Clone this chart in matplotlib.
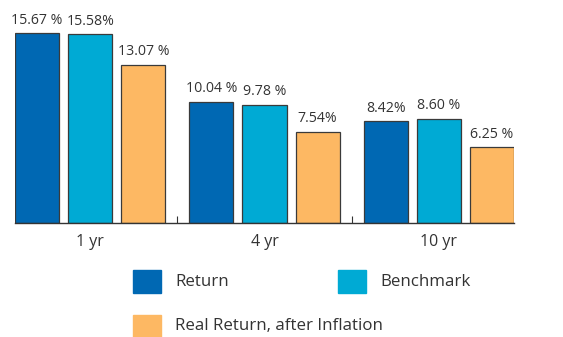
import matplotlib
matplotlib.use('Agg')
import matplotlib.pyplot as plt
from matplotlib.patches import Rectangle
import numpy as np

periods = ['1 yr', '4 yr', '10 yr']
series = ['Return', 'Benchmark', 'Real Return, after Inflation']
ret = [15.67, 10.04, 8.42]
bench = [15.58, 9.78, 8.60]
real = [13.07, 7.54, 6.25]
ret_lbl = ['15.67 %', '10.04 %', '8.42%']
bench_lbl = ['15.58%', '9.78 %', '8.60 %']
real_lbl = ['13.07 %', '7.54%', '6.25 %']
colors = ['#0068b3', '#00aad4', '#fdb863']

plt.rcParams['font.family'] = ['Open Sans', 'DejaVu Sans']
txt = '#333333'

fig = plt.figure(figsize=(5.63, 3.37), dpi=100)
ax = fig.add_axes([15/563, 114/337, 499/563, 213/337])

x = np.arange(len(periods))
w = 0.253
off = 0.305
for i, (vals, lbls) in enumerate([(ret, ret_lbl), (bench, bench_lbl), (real, real_lbl)]):
    ax.bar(x + (i - 1) * off, vals, w, color=colors[i],
           edgecolor='#3a3a3a', linewidth=0.9, label=series[i])
    for xi, v, l in zip(x + (i - 1) * off, vals, lbls):
        ax.annotate(l, (xi, v), xytext=(0, 4), textcoords='offset points',
                    ha='center', va='bottom', fontsize=10.2, color=txt)

ax.set_xlim(-off - w/2, 2 + off + w/2)
ax.set_ylim(0, 213/12.1)
for s in ['top', 'right', 'left']:
    ax.spines[s].set_visible(False)
ax.spines['bottom'].set_color('#333333')
ax.spines['bottom'].set_linewidth(1.0)
ax.set_yticks([])
ax.set_xticks(x)
ax.set_xticklabels(periods, fontsize=11.5, color=txt)
ax.tick_params(axis='x', which='major', length=0, pad=8)
ax.set_xticks([0.5, 1.5], minor=True)
ax.tick_params(axis='x', which='minor', direction='in', length=5,
               width=0.8, color='#333333')

# legend, laid out by hand
legend_pos = [(133, 270), (338, 270), (133, 315)]
for (px, py), c, name in zip(legend_pos, colors, series):
    fig.patches.append(Rectangle((px/563, 1 - (py + 23)/337), 28/563, 23/337,
                                 transform=fig.transFigure, color=c))
    fig.text((px + 42)/563, 1 - (py + 11.5)/337, name, fontsize=12.2,
             color=txt, va='center', ha='left')

fig.savefig('out.png', dpi=100)
